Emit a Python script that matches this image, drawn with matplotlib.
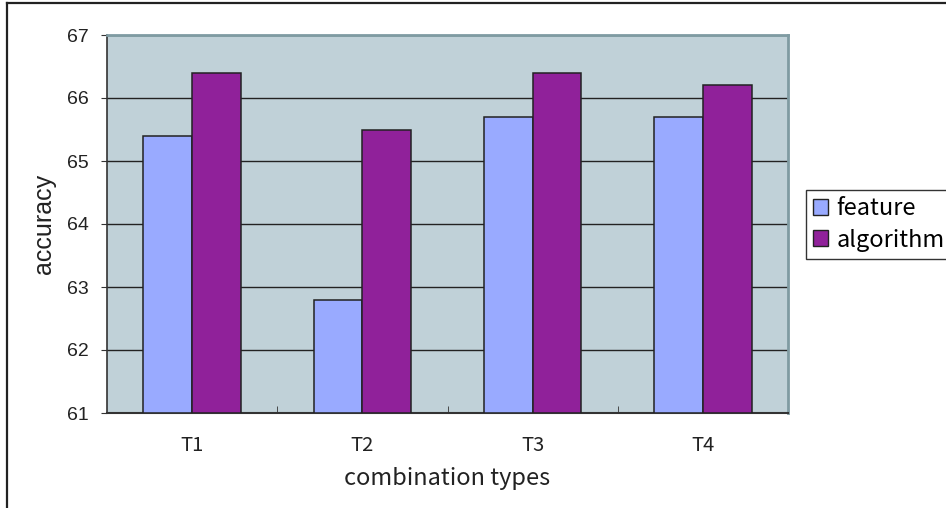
import matplotlib
matplotlib.use('Agg')

import numpy as np
import matplotlib.pyplot as plt
from matplotlib.lines import Line2D
from matplotlib.patches import Patch

categories = ['T1', 'T2', 'T3', 'T4']
feature = [65.4, 62.8, 65.7, 65.7]
algorithm = [66.4, 65.5, 66.4, 66.2]
y_ticks = [61, 62, 63, 64, 65, 66, 67]

FEATURE_COLOR = '#99AAFF'
ALGO_COLOR = '#90219A'
PLOT_BG = '#C0D1D8'
EDGE = '#222222'
LABEL_FONT = ['Noto Sans CJK JP', 'DejaVu Sans']
NUM_FONT = ['Liberation Sans', 'DejaVu Sans']

fig = plt.figure(figsize=(9.46, 5.08), dpi=100)
fig.patch.set_facecolor('white')
ax = fig.add_axes([107 / 946, 1 - 413 / 508, (788 - 107) / 946, (413 - 35) / 508])
ax.set_facecolor(PLOT_BG)

x = np.arange(len(categories))
width = 1 / 3.5  # Excel-style gap width of 150%
ax.bar(x - width / 2, np.array(feature) - 61, width, bottom=61,
       color=FEATURE_COLOR, edgecolor=EDGE, linewidth=1.1, zorder=3)
ax.bar(x + width / 2, np.array(algorithm) - 61, width, bottom=61,
       color=ALGO_COLOR, edgecolor=EDGE, linewidth=1.1, zorder=3)

ax.set_xlim(-0.5, len(categories) - 0.5)
ax.set_ylim(61, 67)

# Gridlines
ax.set_yticks(y_ticks)
ax.yaxis.grid(True, color='#222222', linewidth=1.0, zorder=1)
ax.xaxis.grid(False)
ax.set_axisbelow(True)

# Spines
ax.spines['left'].set_color('#333333')
ax.spines['left'].set_linewidth(1.2)
ax.spines['bottom'].set_color('#333333')
ax.spines['bottom'].set_linewidth(1.5)
ax.spines['top'].set_color('#7F9BA2')
ax.spines['top'].set_linewidth(2)
ax.spines['right'].set_color('#7F9BA2')
ax.spines['right'].set_linewidth(2)

# Ticks
ax.set_xticks(x)
ax.set_xticklabels(categories, fontfamily=LABEL_FONT, fontsize=14.5, color='#222222')
ax.set_xticks(np.arange(0.5, len(categories) - 0.5, 1.0), minor=True)
ax.tick_params(axis='x', which='major', length=0, pad=16)
ax.tick_params(axis='x', which='minor', direction='in', length=5, color='#333333')
ax.tick_params(axis='y', direction='out', length=4, color='#333333', pad=9)
for lab in ax.get_yticklabels():
    lab.set_fontfamily(NUM_FONT)
    lab.set_fontsize(14)
    lab.set_color('#222222')

ax.set_xlabel('combination types', fontfamily=LABEL_FONT, fontsize=17,
              color='#222222', labelpad=8)
ax.set_ylabel('accuracy', fontfamily=NUM_FONT, fontsize=18,
              color='#222222', labelpad=8)

# Legend
handles = [Patch(facecolor=FEATURE_COLOR, edgecolor=EDGE, linewidth=1.0),
           Patch(facecolor=ALGO_COLOR, edgecolor=EDGE, linewidth=1.0)]
leg = fig.legend(handles, ['feature', 'algorithm'],
                 loc='upper left', bbox_to_anchor=(806 / 946, 1 - 190 / 508),
                 prop={'family': LABEL_FONT, 'size': 17},
                 frameon=True, fancybox=False, framealpha=1,
                 edgecolor='#333333', handlelength=0.65, handleheight=0.65,
                 handletextpad=0.35, borderpad=0.3, labelspacing=0.36,
                 borderaxespad=0)
leg.get_frame().set_linewidth(1.0)

# Outer chart frame
fig.add_artist(Line2D([6.5 / 946, 6.5 / 946], [0, 1 - 2.5 / 508],
                      transform=fig.transFigure, color='#222222', linewidth=1.6))
fig.add_artist(Line2D([6.5 / 946, 1], [1 - 2.5 / 508, 1 - 2.5 / 508],
                      transform=fig.transFigure, color='#222222', linewidth=1.6))

fig.savefig('out.png', dpi=100, facecolor=fig.get_facecolor())
